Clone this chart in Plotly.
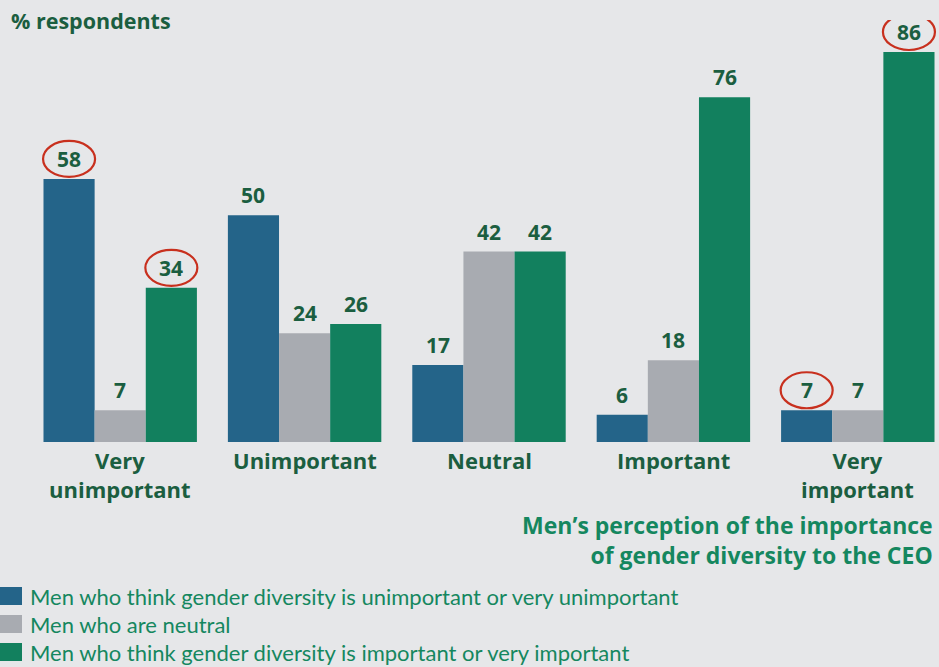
import plotly.graph_objects as go

categories = ["Very<br>unimportant", "Unimportant", "Neutral", "Important", "Very<br>important"]
series_names = [
    "Men who think gender diversity is unimportant or very unimportant",
    "Men who are neutral",
    "Men who think gender diversity is important or very important",
]
unimportant_vals = [58, 50, 17, 6, 7]
neutral_vals = [7, 24, 42, 18, 7]
important_vals = [34, 26, 42, 76, 86]
# highlighted (series index, category index)
highlights = [(0, 0), (2, 0), (0, 4), (2, 4)]

colors = ["#246489", "#A8ABB1", "#12805E"]
bg = "#E6E7E9"
dark_green = "#1B5E40"
title_green = "#15875F"
bold_font = "Open Sans"
reg_font = "Lato"

W, H = 939, 667
ml, mr, mt, mb = 28, 0, 20, 225
pw, ph = W - ml - mr, H - mt - mb
bargap = 0.168
group_px = 184.4
x_max = -0.5 + pw / group_px
y_max = ph / 4.535

fig = go.Figure()
all_vals = [unimportant_vals, neutral_vals, important_vals]
xs = list(range(len(categories)))
for name, vals, col in zip(series_names, all_vals, colors):
    fig.add_trace(go.Bar(
        x=xs, y=vals, name=name, marker=dict(color=col, line=dict(width=0)),
        showlegend=False, hoverinfo="y",
    ))

bw = (1 - bargap) / 3


def px_x(p):
    return (p - ml) / pw


def px_y(p):
    return (H - mb - p) / ph


annotations = []
# value labels
for si, vals in enumerate(all_vals):
    for ci, v in enumerate(vals):
        annotations.append(dict(
            text=str(v), x=ci + (si - 1) * bw, y=v, xref="x", yref="y",
            xanchor="center", yanchor="middle", yshift=20, showarrow=False,
            font=dict(family=bold_font, size=21, color=dark_green, weight="bold")))

for si, ci in highlights:
    xc = ci + (si - 1) * bw
    v = all_vals[si][ci]
    fig.add_shape(type="circle", xref="x", yref="y", xsizemode="pixel", ysizemode="pixel",
                  xanchor=xc, yanchor=v, x0=-26, x1=26, y0=2, y1=38,
                  line=dict(color="#C8301E", width=2.2))

# category labels
for ci, cat in enumerate(categories):
    annotations.append(dict(
        text=cat, x=ci, y=px_y(443), xref="x", yref="paper",
        xanchor="center", yanchor="top", showarrow=False, align="center",
        font=dict(family=bold_font, size=22, color=dark_green, weight="bold")))

annotations += [
    dict(text="% respondents", x=px_x(9), y=px_y(20), xref="paper", yref="paper",
         xanchor="left", yanchor="middle", showarrow=False,
         font=dict(family=bold_font, size=21.5, color=dark_green, weight="bold")),
    dict(text="Men’s perception of the importance<br>of gender diversity to the CEO",
         x=px_x(935), y=px_y(540), xref="paper", yref="paper", align="right",
         xanchor="right", yanchor="middle", showarrow=False,
         font=dict(family=bold_font, size=23, color=title_green, weight="bold")),
]

legend_y = [596, 624, 652]
for name, col, ly in zip(series_names, colors, legend_y):
    fig.add_shape(type="rect", xref="paper", yref="paper",
                  x0=px_x(0), x1=px_x(22), y0=px_y(ly - 9), y1=px_y(ly + 9),
                  fillcolor=col, line=dict(width=0))
    annotations.append(dict(text=name, x=px_x(28), y=px_y(ly), xref="paper", yref="paper",
                            xanchor="left", yanchor="middle", showarrow=False,
                            font=dict(family=reg_font, size=22, color=title_green)))

fig.update_layout(
    width=W, height=H, margin=dict(l=ml, r=mr, t=mt, b=mb),
    paper_bgcolor=bg, plot_bgcolor=bg, barmode="group", bargap=bargap, bargroupgap=0,
    annotations=annotations,
    xaxis=dict(range=[-0.5, x_max], showgrid=False, zeroline=False, showline=False,
               ticks="", showticklabels=False),
    yaxis=dict(range=[0, y_max], visible=False),
)
fig.write_html("out.html", config={"displayModeBar": False},
               post_script="document.body.style.margin='0';document.body.style.background='#E6E7E9';")
